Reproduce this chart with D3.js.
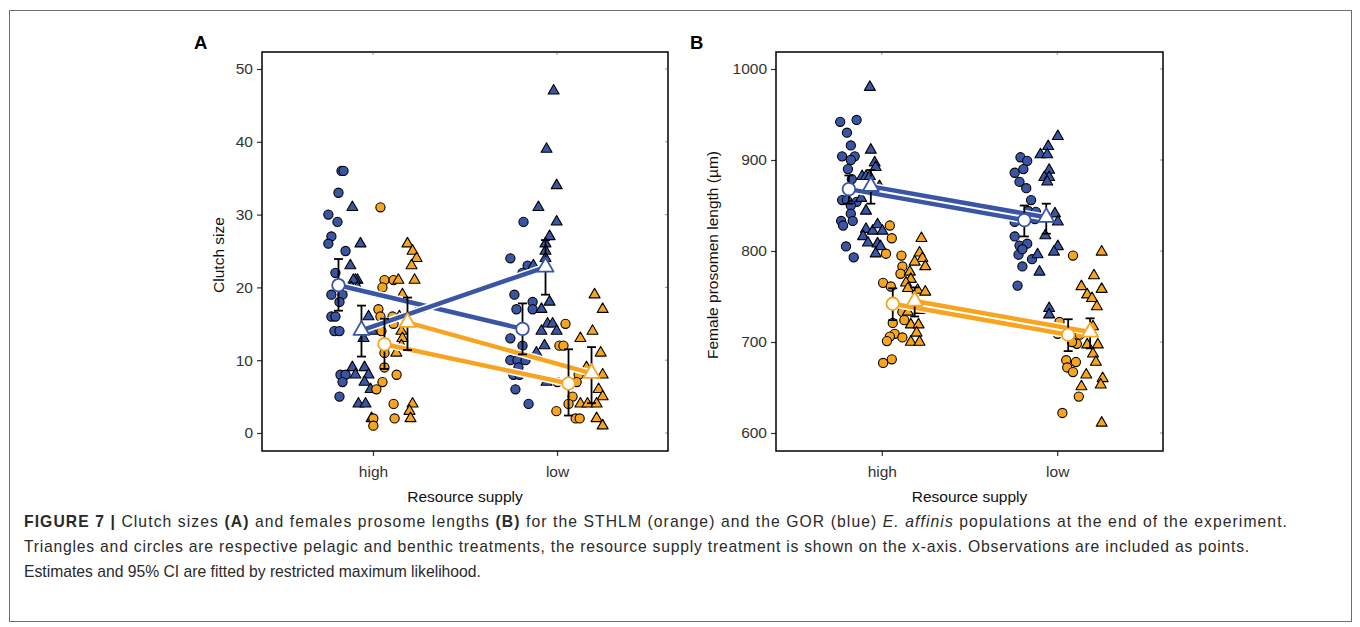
<!DOCTYPE html>
<html>
<head>
<meta charset="utf-8">
<script src="https://cdn.jsdelivr.net/npm/d3@7"></script>
<style>
  html, body { margin: 0; padding: 0; background: #fff; }
  svg { display: block; font-family: "Liberation Sans", Arial, Helvetica, sans-serif; }
</style>
</head>
<body>
<svg id="chart" width="1360" height="627"></svg>
<script>
// ---------------- DATA ----------------
const categories = ["high", "low"];
// groups: GOR benthic (blue circle), GOR pelagic (blue triangle), STHLM benthic (orange circle), STHLM pelagic (orange triangle)
const groups = ["GOR benthic", "GOR pelagic", "STHLM benthic", "STHLM pelagic"];
const groupColors = ["#3B55A5", "#3B55A5", "#F7A521", "#F7A521"];
const groupShapes = ["circle", "triangle", "circle", "triangle"];

const clutchTicks = [0, 10, 20, 30, 40, 50];
const lengthTicks = [600, 700, 800, 900, 1000];

// Panel A: clutch size observations [jitter, value]
const clutchGORBenthicHigh = [[3,36],[5,36],[0,33],[-10,30],[-1,29],[-7,27],[-10,26],[7,25],[-3,22],[-7,19],[4,19],[1,18],[-7,16],[-3,16],[-4,14],[1,14],[2,8],[7,8],[4,7],[1,5]];
const clutchGORPelagicHigh = [[-9,31],[-1,26],[-11,23],[-4,21],[-6,21],[-8,21],[-10,20],[-4,20],[7,16],[11,14],[2,13],[-9,9],[3,9],[-6,8],[7,8],[3,7],[9,6],[-3,4],[4,4],[10,2]];
const clutchSTHLMBenthicHigh = [[-4,31],[0,21],[9,21],[-2,20],[-6,17],[-4,16],[8,16],[9,15],[-3,14],[0,11],[0,9],[12,8],[-2,7],[-8,6],[9,4],[-11,2],[-11,1],[10,2]];
const clutchSTHLMPelagicHigh = [[0,26],[5,25],[9,24],[4,23],[-9,21],[7,21],[-5,19],[11,17],[-8,16],[-6,14],[-5,13],[-6,12],[-11,11],[5,4],[2,3],[3,2]];
const clutchGORBenthicLow = [[1,29],[-12,24],[5,23],[0,22],[-8,19],[-6,17],[10,18],[10,17],[-12,13],[0,12],[-12,10],[-5,10],[3,10],[-4,9],[-9,8],[-3,8],[-7,6],[6,4]];
const clutchGORPelagicLow = [[8,47],[1,39],[11,34],[-7,31],[11,29],[4,27],[0,26],[0,25],[0,24],[-12,23],[4,18],[-4,17],[2,15],[7,15],[-4,14],[11,14],[-1,12],[-9,11],[1,7]];
const clutchSTHLMBenthicLow = [[-3,15],[-9,12],[-5,12],[10,8],[8,7],[-11,7],[4,5],[0,4],[-12,3],[7,2],[11,2]];
const clutchSTHLMPelagicLow = [[3,19],[11,17],[1,14],[-11,13],[9,11],[-5,9],[11,8],[7,6],[11,5],[-11,4],[-4,4],[5,4],[5,2],[11,1]];

// Panel A estimates: [estimate, lower CI, upper CI] for high, low
const clutchEstGORBenthic = [[20.3,16.8,23.9],[14.3,10.8,17.8]];
const clutchEstGORPelagic = [[14.1,10.5,17.5],[22.8,19.0,26.5]];
const clutchEstSTHLMBenthic = [[12.2,8.8,15.7],[6.8,2.4,11.5]];
const clutchEstSTHLMPelagic = [[15.2,11.4,18.6],[8.2,4.1,11.8]];

// Panel B: female prosome length observations [jitter, value]
const lengthGORBenthicHigh = [[-9,942],[8,944],[-2,930],[2,916],[-7,904],[6,904],[2,900],[-1,890],[3,879],[-7,856],[-2,856],[8,854],[2,850],[2,841],[-8,833],[-6,828],[4,833],[-3,805],[5,793]];
const lengthGORPelagicHigh = [[-1,980],[0,911],[4,897],[5,892],[-9,882],[-5,882],[-1,882],[9,871],[-10,858],[-5,844],[-5,824],[2,822],[7,829],[12,822],[-8,816],[-3,809],[7,808],[10,805],[5,797]];
const lengthSTHLMBenthicHigh = [[-3,828],[-1,814],[-7,797],[9,795],[10,783],[8,775],[-10,765],[-2,761],[10,733],[12,724],[0,721],[2,709],[-3,706],[-6,701],[10,705],[-10,677],[-1,681]];
const lengthSTHLMPelagicHigh = [[7,814],[5,798],[8,792],[0,788],[11,783],[-5,777],[-4,769],[-9,765],[-7,759],[3,757],[11,755],[-7,733],[5,735],[-4,719],[4,719],[2,710],[-4,700],[5,700]];
const lengthGORBenthicLow = [[-4,903],[3,899],[-10,886],[-1,890],[-5,876],[2,869],[7,856],[4,844],[12,843],[11,835],[-10,832],[-10,816],[-5,806],[3,808],[-6,796],[-2,802],[8,791],[-2,783],[-7,762]];
const lengthGORPelagicLow = [[12,926],[2,915],[-6,906],[1,906],[3,889],[-2,881],[3,881],[1,876],[9,841],[12,832],[-1,817],[12,805],[8,799],[-9,796],[-7,777],[3,737],[3,730]];
const lengthSTHLMBenthicLow = [[5,795],[-9,722],[-11,709],[12,708],[9,698],[4,700],[-2,680],[8,678],[-1,672],[5,667],[11,640],[-6,622]];
const lengthSTHLMPelagicLow = [[12,799],[4,773],[12,758],[-9,761],[-3,752],[2,748],[7,739],[3,717],[-3,697],[8,697],[3,687],[6,678],[-4,664],[13,660],[11,653],[-9,651],[12,611]];

// Panel B estimates
const lengthEstGORBenthic = [[868,852,883],[834,816,850]];
const lengthEstGORPelagic = [[871,852,889],[837,819,852]];
const lengthEstSTHLMBenthic = [[742,724,759],[708,690,725]];
const lengthEstSTHLMPelagic = [[745,728,760],[711,693,726]];

const captionLines = [
  [["FIGURE 7 | ", "b"], ["Clutch sizes ", ""], ["(A)", "b"], [" and females prosome lengths ", ""], ["(B)", "b"], [" for the STHLM (orange) and the GOR (blue) ", ""], ["E. affinis", "i"], [" populations at the end of the experiment.", ""]],
  [["Triangles and circles are respective pelagic and benthic treatments, the resource supply treatment is shown on the x-axis. Observations are included as points.", ""]],
  [["Estimates and 95% CI are fitted by restricted maximum likelihood.", ""]]
];
const captionLineEnds = [1288, 1250, null];

// ---------------- DRAWING ----------------
const svg = d3.select("#chart");
const groupOffsets = [-0.1875, -0.0625, 0.0625, 0.1875];
const jitterUnit = 0.0055;

svg.append("rect").attr("x", 9.5).attr("y", 10.5).attr("width", 1342).attr("height", 611)
  .attr("fill", "none").attr("stroke", "#6d6d6d").attr("stroke-width", 1);

function triPath(s) {
  const h = s * Math.sqrt(3) / 2;
  return `M0,${-2*h/3}L${s/2},${h/3}L${-s/2},${h/3}Z`;
}

function drawPanel(cfg) {
  const g = svg.append("g");
  const x = d3.scaleLinear().domain([0.397, 2.603]).range([cfg.left, cfg.right]);
  const y = d3.scaleLinear().domain(cfg.yDomain).range([433, 69]);
  const top = 52, bottom = 451;

  // y axis
  const yAxis = d3.axisLeft(y).tickValues(cfg.yTicks).tickFormat(d3.format("d")).tickSize(5).tickPadding(4);
  const ya = g.append("g").attr("transform", `translate(${cfg.left},0)`).call(yAxis);
  ya.select(".domain").remove();
  ya.selectAll("text").attr("font-size", 15.5).attr("fill", "#333").attr("font-family", "Liberation Sans, Arial, sans-serif");
  ya.selectAll("line").attr("stroke", "#333").attr("stroke-width", 1.2);

  // x axis
  const xAxis = d3.axisBottom(x).tickValues([1, 2]).tickFormat((d, i) => categories[i]).tickSize(5).tickPadding(10);
  const xa = g.append("g").attr("transform", `translate(0,${bottom})`).call(xAxis);
  xa.select(".domain").remove();
  xa.selectAll("text").attr("font-size", 15.5).attr("fill", "#333").attr("font-family", "Liberation Sans, Arial, sans-serif");
  xa.selectAll("line").attr("stroke", "#333").attr("stroke-width", 1.2);

  // inner mirror ticks (top & right)
  g.selectAll(".tt").data([1, 2]).enter().append("line")
    .attr("x1", d => x(d)).attr("x2", d => x(d)).attr("y1", top).attr("y2", top + 3)
    .attr("stroke", "#999").attr("stroke-width", 1);
  g.selectAll(".rt").data(cfg.yTicks).enter().append("line")
    .attr("x1", cfg.right).attr("x2", cfg.right - 3).attr("y1", d => y(d)).attr("y2", d => y(d))
    .attr("stroke", "#999").attr("stroke-width", 1);

  // frame
  g.append("rect").attr("x", cfg.left).attr("y", top).attr("width", cfg.right - cfg.left).attr("height", bottom - top)
    .attr("fill", "none").attr("stroke", "#000").attr("stroke-width", 1.5);

  // titles
  g.append("text").attr("transform", `translate(${cfg.titleX},255) rotate(-90)`).attr("text-anchor", "middle")
    .attr("font-size", 15.5).attr("fill", "#111").text(cfg.yTitle);
  g.append("text").attr("x", (cfg.left + cfg.right) / 2).attr("y", 502).attr("text-anchor", "middle")
    .attr("font-size", 15.5).attr("fill", "#111").text("Resource supply");
  g.append("text").attr("x", cfg.labelX).attr("y", 49).attr("font-size", 18.5).attr("font-weight", "bold")
    .attr("fill", "#000").text(cfg.label);

  // raw observations
  cfg.obs.forEach((byCat, gi) => {
    byCat.forEach((pts, ci) => {
      const base = ci + 1 + groupOffsets[gi];
      const sel = g.append("g").selectAll("path").data(pts).enter();
      if (groupShapes[gi] === "circle") {
        sel.append("circle")
          .attr("cx", d => x(base + d[0] * jitterUnit)).attr("cy", d => y(d[1])).attr("r", 4.6)
          .attr("fill", groupColors[gi]).attr("stroke", "#000").attr("stroke-width", 1.1);
      } else {
        sel.append("path").attr("d", triPath(11))
          .attr("transform", d => `translate(${x(base + d[0] * jitterUnit)},${y(d[1])})`)
          .attr("fill", groupColors[gi]).attr("stroke", "#000").attr("stroke-width", 1.1).attr("stroke-linejoin", "round");
      }
    });
  });

  // estimate lines
  cfg.est.forEach((est, gi) => {
    const pts = est.map((e, ci) => [x(ci + 1 + groupOffsets[gi]), y(e[0])]);
    g.append("path").attr("d", d3.line()(pts)).attr("stroke", "#fff").attr("stroke-width", 7.5).attr("fill", "none");
    g.append("path").attr("d", d3.line()(pts)).attr("stroke", groupColors[gi]).attr("stroke-width", 4.5).attr("fill", "none");
  });

  // error bars
  cfg.est.forEach((est, gi) => {
    est.forEach((e, ci) => {
      const cx = x(ci + 1 + groupOffsets[gi]);
      const eg = g.append("g").attr("stroke", "#000").attr("stroke-width", 1.8);
      eg.append("line").attr("x1", cx).attr("x2", cx).attr("y1", y(e[1])).attr("y2", y(e[2]));
      eg.append("line").attr("x1", cx - 4.5).attr("x2", cx + 4.5).attr("y1", y(e[1])).attr("y2", y(e[1]));
      eg.append("line").attr("x1", cx - 4.5).attr("x2", cx + 4.5).attr("y1", y(e[2])).attr("y2", y(e[2]));
    });
  });

  // estimate markers
  cfg.est.forEach((est, gi) => {
    est.forEach((e, ci) => {
      const cx = x(ci + 1 + groupOffsets[gi]);
      if (groupShapes[gi] === "circle") {
        g.append("circle").attr("cx", cx).attr("cy", y(e[0])).attr("r", 6.3)
          .attr("fill", "#fff").attr("stroke", groupColors[gi]).attr("stroke-width", 1.8);
      } else {
        g.append("path").attr("d", triPath(16)).attr("transform", `translate(${cx},${y(e[0])})`)
          .attr("fill", "#fff").attr("stroke", groupColors[gi]).attr("stroke-width", 1.8).attr("stroke-linejoin", "round");
      }
    });
  });
}

drawPanel({
  left: 262, right: 668, yDomain: [0, 50], yTicks: clutchTicks, yTitle: "Clutch size", titleX: 224, label: "A", labelX: 194,
  obs: [[clutchGORBenthicHigh, clutchGORBenthicLow], [clutchGORPelagicHigh, clutchGORPelagicLow],
        [clutchSTHLMBenthicHigh, clutchSTHLMBenthicLow], [clutchSTHLMPelagicHigh, clutchSTHLMPelagicLow]],
  est: [clutchEstGORBenthic, clutchEstGORPelagic, clutchEstSTHLMBenthic, clutchEstSTHLMPelagic]
});
drawPanel({
  left: 776, right: 1163, yDomain: [600, 1000], yTicks: lengthTicks, yTitle: "Female prosomen length (µm)", titleX: 718, label: "B", labelX: 690,
  obs: [[lengthGORBenthicHigh, lengthGORBenthicLow], [lengthGORPelagicHigh, lengthGORPelagicLow],
        [lengthSTHLMBenthicHigh, lengthSTHLMBenthicLow], [lengthSTHLMPelagicHigh, lengthSTHLMPelagicLow]],
  est: [lengthEstGORBenthic, lengthEstGORPelagic, lengthEstSTHLMBenthic, lengthEstSTHLMPelagic]
});

// caption
const cap = svg.append("g").attr("font-size", 15.7).attr("fill", "#2a2a2a");
captionLines.forEach((line, li) => {
  const t = cap.append("text").attr("x", 24).attr("y", 527 + li * 24.8);
  line.forEach(seg => {
    const ts = t.append("tspan").text(seg[0]);
    if (seg[1] === "b") ts.attr("font-weight", "bold");
    if (seg[1] === "i") ts.attr("font-style", "italic");
  });
  // stretch spacing so the line ends where it does in the figure
  if (captionLineEnds[li] !== null) {
    const natural = t.node().getComputedTextLength();
    const nChars = line.reduce((s, seg) => s + seg[0].length, 0);
    const target = captionLineEnds[li] - 24;
    if (target > natural) t.attr("letter-spacing", ((target - natural) / nChars).toFixed(3) + "px");
  }
});
</script>
</body>
</html>
